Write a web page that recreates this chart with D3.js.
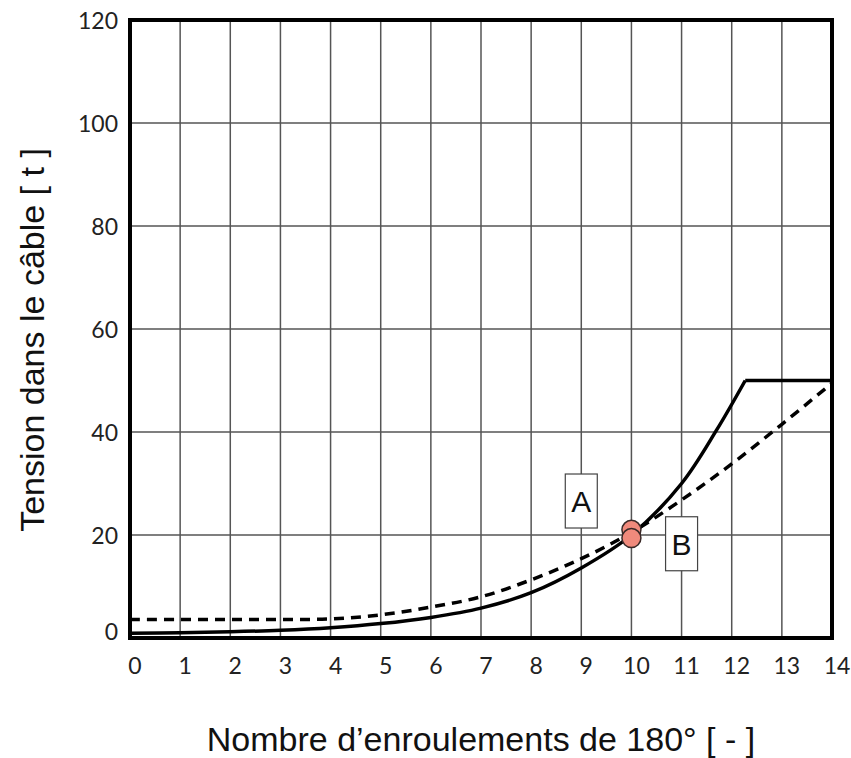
<!DOCTYPE html>
<html>
<head>
<meta charset="utf-8">
<script src="https://cdn.jsdelivr.net/npm/d3@7"></script>
<style>
  body { margin: 0; background: #fff; }
  svg { display: block; }
</style>
</head>
<body>
<script>
// tension data
var xTicks = d3.range(0, 15);
var yTicks = [0, 20, 40, 60, 80, 100, 120];

// curve A (solid), rises then levels off at 50
var aX = [0, 1, 2, 3, 4, 5, 6, 7, 8, 9, 10, 11, 11.7, 12.27];
var aY = [0.9, 1, 1.2, 1.5, 2, 2.8, 4, 5.8, 8.8, 13.6, 20, 30, 40.4, 50];
var aFlatX = [12.27, 14];
var aFlatY = [50, 50];

// curve B (dashed)
var bX = [0, 1, 2, 3, 4, 5, 6, 7, 8, 9, 10, 11, 12, 13, 14];
var bY = [3.6, 3.6, 3.6, 3.6, 3.7, 4.5, 6, 8, 11.3, 15.4, 20.5, 26.8, 33.8, 41.5, 49.5];

// the two markers at the crossing
var dotX = [10, 10];
var dotY = [21, 19.4];

var labels = ["A", "B"];
var labelX = [9, 11];
var labelY = [26.6, 18.3];

var w = 851,
    h = 758;

var svg = d3.select("body")
    .append("svg")
    .attr("width", w)
    .attr("height", h);

var x = d3.scaleLinear().domain([0, 14]).range([130, 832]);
var y = d3.scaleLinear().domain([0, 120]).range([638, 20]);

var tickFont = "Lato, 'Open Sans', sans-serif";
var titleFont = "'Liberation Sans', Arial, sans-serif";

// grid
svg.append("g")
    .selectAll("line.vg")
    .data(xTicks.slice(1, -1))
    .enter()
    .append("line")
    .attr("x1", function(d) { return x(d); })
    .attr("x2", function(d) { return x(d); })
    .attr("y1", y(120))
    .attr("y2", y(0))
    .style("stroke", "#555")
    .style("stroke-width", 1.5);

svg.append("g")
    .selectAll("line.hg")
    .data(yTicks.slice(1, -1))
    .enter()
    .append("line")
    .attr("x1", x(0))
    .attr("x2", x(14))
    .attr("y1", function(d) { return y(d); })
    .attr("y2", function(d) { return y(d); })
    .style("stroke", "#555")
    .style("stroke-width", 1.5);

// tick labels
svg.append("g")
    .selectAll("text")
    .data(yTicks)
    .enter()
    .append("text")
    .attr("x", 118)
    .attr("y", function(d) { return d == 0 ? y(d) - 6 : y(d) + 1; })
    .attr("dy", "0.35em")
    .attr("text-anchor", "end")
    .style("font-family", tickFont)
    .style("font-size", "23px")
    .style("fill", "#222")
    .text(function(d) { return d; });

svg.append("g")
    .selectAll("text")
    .data(xTicks)
    .enter()
    .append("text")
    .attr("x", function(d) { return x(d) + 5; })
    .attr("y", 674)
    .attr("text-anchor", "middle")
    .style("font-family", tickFont)
    .style("font-size", "23px")
    .style("fill", "#222")
    .text(function(d) { return d; });

// curves
var line = d3.line()
    .x(function(d) { return x(d[0]); })
    .y(function(d) { return y(d[1]); })
    .curve(d3.curveCatmullRom.alpha(0.5));

svg.append("path")
    .attr("d", line(d3.zip(bX, bY)))
    .style("fill", "none")
    .style("stroke", "#000")
    .style("stroke-width", 3.5)
    .style("stroke-dasharray", "10,7");

svg.append("path")
    .attr("d", line(d3.zip(aX, aY)))
    .style("fill", "none")
    .style("stroke", "#000")
    .style("stroke-width", 3.5);

svg.append("path")
    .attr("d", d3.line()
        .x(function(d) { return x(d[0]); })
        .y(function(d) { return y(d[1]); })(d3.zip(aFlatX, aFlatY)))
    .style("fill", "none")
    .style("stroke", "#000")
    .style("stroke-width", 3.5);

// frame
svg.append("rect")
    .attr("x", x(0))
    .attr("y", y(120))
    .attr("width", x(14) - x(0))
    .attr("height", y(0) - y(120))
    .style("fill", "none")
    .style("stroke", "#000")
    .style("stroke-width", 4);

// A / B boxes
var boxes = svg.append("g")
    .selectAll("g")
    .data(labels)
    .enter()
    .append("g")
    .attr("transform", function(d, i) {
        return "translate(" + x(labelX[i]) + "," + y(labelY[i]) + ")";
    });

boxes.append("rect")
    .attr("x", -16)
    .attr("y", -27)
    .attr("width", 32)
    .attr("height", 54)
    .style("fill", "#fff")
    .style("stroke", "#444")
    .style("stroke-width", 1.2);

boxes.append("text")
    .attr("y", 0)
    .attr("dy", "0.36em")
    .attr("text-anchor", "middle")
    .style("font-family", titleFont)
    .style("font-size", "30px")
    .style("fill", "#111")
    .text(function(d) { return d; });

// markers
svg.append("g")
    .selectAll("ellipse")
    .data(dotX)
    .enter()
    .append("ellipse")
    .attr("cx", function(d) { return x(d); })
    .attr("cy", function(d, i) { return y(dotY[i]); })
    .attr("rx", 9.5)
    .attr("ry", 9.5)
    .style("fill", "#f08a7c")
    .style("stroke", "#3a2a28")
    .style("stroke-width", 1.5);

// axis titles
svg.append("text")
    .attr("x", 481)
    .attr("y", 751)
    .attr("text-anchor", "middle")
    .style("font-family", titleFont)
    .style("font-size", "34px")
    .style("fill", "#111")
    .text("Nombre d\u2019enroulements de 180\u00b0 [ - ]");

svg.append("text")
    .attr("transform", "translate(44,340) rotate(-90)")
    .attr("text-anchor", "middle")
    .style("font-family", titleFont)
    .style("font-size", "34px")
    .style("fill", "#111")
    .text("Tension dans le c\u00e2ble [ t ]");
</script>
</body>
</html>
